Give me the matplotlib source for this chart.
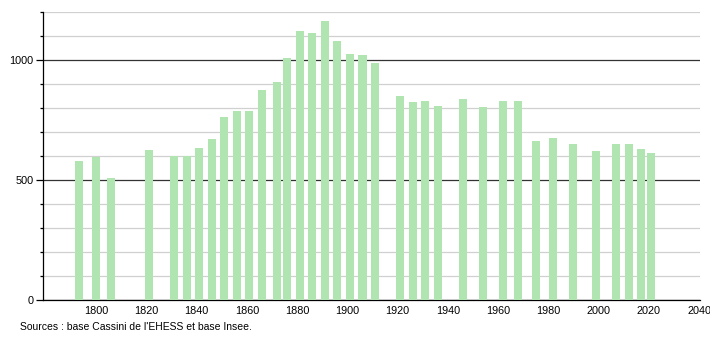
import numpy as np
import matplotlib
matplotlib.use('Agg')
import matplotlib.pyplot as plt
from matplotlib.ticker import MultipleLocator

plt.rcParams['font.family'] = ['Liberation Sans', 'DejaVu Sans']

# Population by census year
years = [1793, 1800, 1806, 1821, 1831, 1836, 1841, 1846, 1851, 1856,
         1861, 1866, 1872, 1876, 1881, 1886, 1891, 1896, 1901, 1906,
         1911, 1921, 1926, 1931, 1936, 1946, 1954, 1962, 1968, 1975,
         1982, 1990, 1999, 2007, 2012, 2017, 2021]
population = [579, 596, 508, 625, 602, 600, 633, 671, 762, 787,
              787, 875, 908, 1008, 1121, 1112, 1162, 1079, 1025, 1021,
              987, 850, 825, 829, 808, 837, 804, 829, 829, 662,
              675, 650, 621, 648, 650, 629, 612]
x_ticks = list(range(1800, 2041, 20))
y_ticks = [0, 500, 1000]
source = "Sources : base Cassini de l'EHESS et base Insee."

fig = plt.figure(figsize=(7.1, 3.4), dpi=100)
ax = fig.add_axes([0.0606, 0.1176, 0.9254, 0.8471])

ax.bar(years, population, width=3.2, color='#b0e4b0', zorder=3)

ax.set_xlim(1778.8, 2040.4)
ax.set_ylim(0, 1200)

# gridlines: light every 100, dark at 500
ax.yaxis.set_minor_locator(MultipleLocator(100))
ax.set_yticks(y_ticks)
ax.grid(which='minor', axis='y', color='#d0d0d0', linewidth=0.9, zorder=1)
ax.grid(which='major', axis='y', color='#333333', linewidth=0.9, zorder=2)
ax.set_axisbelow(True)

ax.set_xticks(x_ticks)
ax.tick_params(axis='x', length=0, labelsize=7.8, pad=4)
ax.tick_params(axis='y', which='major', length=5, width=0.9, labelsize=7.8, pad=2)
ax.tick_params(axis='y', which='minor', length=2.5, width=0.9)

for s in ['top', 'right']:
    ax.spines[s].set_visible(False)
ax.spines['left'].set_linewidth(0.9)
ax.spines['bottom'].set_linewidth(0.9)

fig.text(20 / 710, 1 - 327 / 340, source, fontsize=7.5, va='center', ha='left')

fig.savefig('out.png', dpi=100)
